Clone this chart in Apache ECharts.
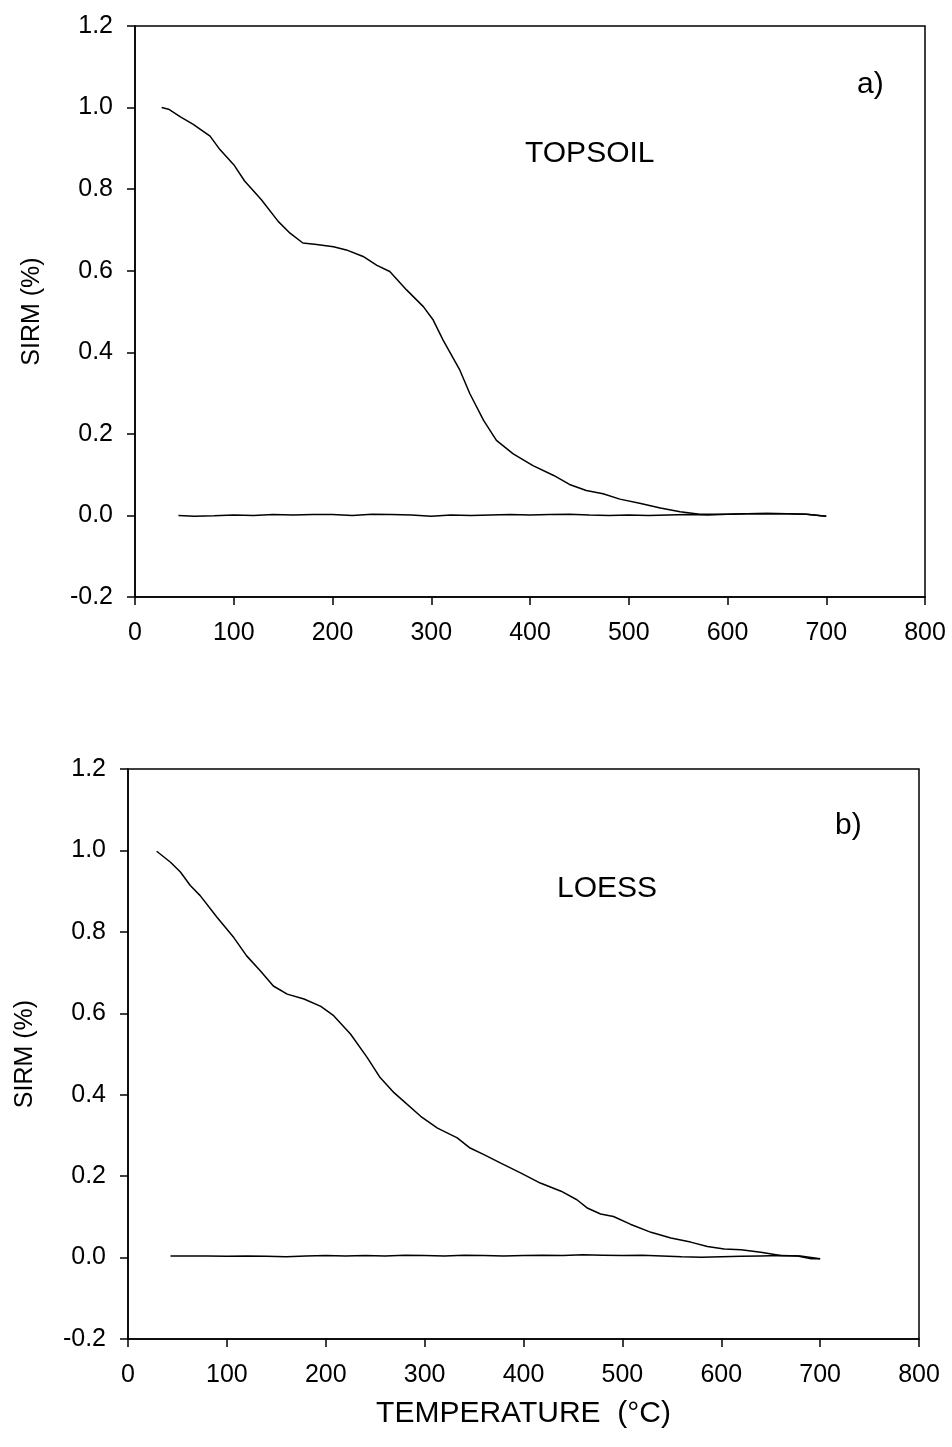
<!DOCTYPE html>
<html>
<head>
<meta charset="utf-8">
<script src="https://cdn.jsdelivr.net/npm/echarts@6/dist/echarts.min.js"></script>
<style>
  html, body { margin: 0; padding: 0; background: #fff; }
  #chart { width: 952px; height: 1447px; }
</style>
</head>
<body>
<div id="chart"></div>
<script>
// a) TOPSOIL - thermal demagnetisation curve
var topTemp = [27, 34, 46, 59, 76, 86, 100, 111, 128, 145, 157, 170, 184, 201, 214, 231, 245, 258, 275, 292, 302, 312,
  329, 339, 353, 366, 383, 403, 424, 440, 457, 474, 491, 511, 532, 552, 572, 600, 620, 640, 660, 680, 700];
var topSirm = [1.0, 0.996, 0.977, 0.959, 0.930, 0.897, 0.86, 0.82, 0.774, 0.721, 0.692, 0.668, 0.664, 0.659, 0.651, 0.635,
  0.613, 0.598, 0.553, 0.512, 0.479, 0.43, 0.356, 0.299, 0.233, 0.184, 0.151, 0.122, 0.098, 0.076, 0.061, 0.053, 0.040,
  0.030, 0.018, 0.009, 0.003, 0.003, 0.004, 0.005, 0.004, 0.003, -0.002];
// a) baseline
var topBaseTemp = [44, 60, 80, 100, 120, 140, 160, 180, 200, 220, 240, 260, 280, 300, 320, 340, 360, 380, 400, 420, 440,
  460, 480, 500, 520, 540, 560, 580, 600, 620, 640, 660, 680, 700];
var topBaseSirm = [0.000, -0.002, -0.001, 0.001, 0.000, 0.002, 0.001, 0.002, 0.002, 0.000, 0.003, 0.002, 0.001, -0.002,
  0.001, 0.000, 0.001, 0.002, 0.001, 0.002, 0.003, 0.001, 0.000, 0.001, 0.000, 0.001, 0.002, 0.001, 0.003, 0.004, 0.005,
  0.004, 0.003, -0.002];

// b) LOESS
var botTemp = [29, 43, 53, 63, 73, 90, 107, 120, 134, 147, 161, 178, 195, 208, 225, 242, 255, 269, 277, 296, 313, 333,
  346, 360, 377, 397, 417, 438, 454, 465, 478, 491, 508, 529, 549, 569, 586, 603, 620, 640, 660, 677, 691, 700];
var botSirm = [0.998, 0.971, 0.947, 0.914, 0.889, 0.836, 0.786, 0.741, 0.704, 0.667, 0.647, 0.635, 0.617, 0.594, 0.549,
  0.491, 0.442, 0.405, 0.388, 0.347, 0.318, 0.294, 0.269, 0.253, 0.232, 0.208, 0.183, 0.163, 0.142, 0.121, 0.107, 0.101,
  0.082, 0.062, 0.048, 0.038, 0.027, 0.021, 0.019, 0.013, 0.005, 0.004, -0.003, -0.003];
var botBaseTemp = [43, 60, 80, 100, 120, 140, 160, 180, 200, 220, 240, 260, 280, 300, 320, 340, 360, 380, 400, 420, 440,
  460, 480, 500, 520, 540, 560, 580, 600, 620, 640, 660, 680, 700];
var botBaseSirm = [0.004, 0.004, 0.004, 0.003, 0.004, 0.003, 0.002, 0.004, 0.005, 0.004, 0.005, 0.004, 0.006, 0.005,
  0.004, 0.006, 0.005, 0.004, 0.005, 0.006, 0.005, 0.007, 0.006, 0.005, 0.006, 0.004, 0.002, 0.001, 0.002, 0.003, 0.004,
  0.005, 0.004, -0.003];

function pairs(xs, ys) {
  return xs.map(function (x, i) { return [x, ys[i]]; });
}

var FONT = 'Liberation Sans, Arial, sans-serif';

function xAx(idx, showName) {
  return {
    type: 'value', gridIndex: idx, min: 0, max: 800, interval: 100,
    name: showName ? 'TEMPERATURE  (°C)' : '', nameLocation: 'middle', nameGap: 60,
    nameTextStyle: { color: '#000', fontSize: 30, fontFamily: FONT },
    axisLine: { onZero: false, lineStyle: { color: '#000', width: 1.5 } },
    axisTick: { length: 8, lineStyle: { color: '#000', width: 1.5 } },
    axisLabel: { color: '#000', fontSize: 25, fontFamily: FONT, margin: 24 },
    splitLine: { show: false }
  };
}

function yAx(idx) {
  return {
    type: 'value', gridIndex: idx, min: -0.2, max: 1.2, interval: 0.2,
    name: 'SIRM (%)', nameLocation: 'middle', nameGap: 90,
    nameTextStyle: { color: '#000', fontSize: 25, fontFamily: FONT },
    axisLine: { lineStyle: { color: '#000', width: 1.5 } },
    axisTick: { length: 8, lineStyle: { color: '#000', width: 1.5 } },
    axisLabel: {
      color: '#000', fontSize: 25, fontFamily: FONT, margin: 22,
      formatter: function (v) { return v.toFixed(1); }
    },
    splitLine: { show: false }
  };
}

function line(idx, data) {
  return {
    type: 'line', xAxisIndex: idx, yAxisIndex: idx, data: data,
    showSymbol: false, symbol: 'none', silent: true,
    lineStyle: { color: '#000', width: 1.5 }
  };
}

var myChart = echarts.init(document.getElementById('chart'));
myChart.setOption({
  animation: false,
  backgroundColor: '#fff',
  grid: [
    { left: 135, top: 26, width: 790, height: 571, show: true, borderColor: '#000', borderWidth: 1.5 },
    { left: 128, top: 769, width: 791, height: 570, show: true, borderColor: '#000', borderWidth: 1.5 }
  ],
  xAxis: [xAx(0, false), xAx(1, true)],
  yAxis: [yAx(0), yAx(1)],
  series: [
    line(0, pairs(topTemp, topSirm)),
    line(0, pairs(topBaseTemp, topBaseSirm)),
    line(1, pairs(botTemp, botSirm)),
    line(1, pairs(botBaseTemp, botBaseSirm))
  ],
  graphic: [
    { type: 'text', left: 857, top: 70, style: { text: 'a)', fontSize: 30, fontFamily: FONT, fill: '#000' } },
    { type: 'text', left: 525, top: 139, style: { text: 'TOPSOIL', fontSize: 30, fontFamily: FONT, fill: '#000' } },
    { type: 'text', left: 835, top: 811, style: { text: 'b)', fontSize: 30, fontFamily: FONT, fill: '#000' } },
    { type: 'text', left: 557, top: 874, style: { text: 'LOESS', fontSize: 30, fontFamily: FONT, fill: '#000' } }
  ]
});
</script>
</body>
</html>
